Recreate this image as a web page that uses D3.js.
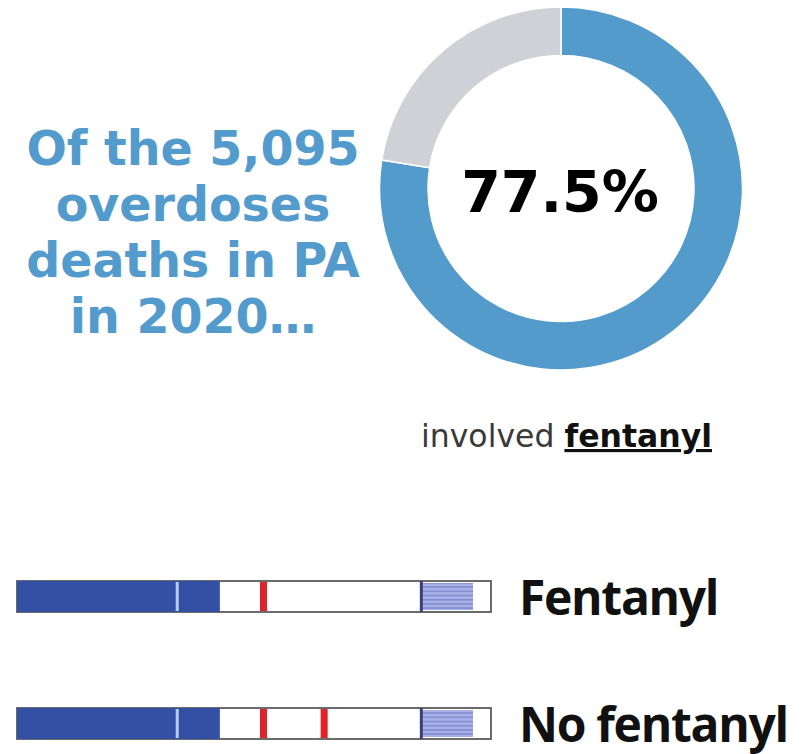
<!DOCTYPE html>
<html>
<head>
<meta charset="utf-8">
<script src="https://cdn.jsdelivr.net/npm/d3@7"></script>
<style>
  html, body { margin: 0; padding: 0; background: #fff; }
  svg { display: block; }
</style>
</head>
<body>
<svg id="chart" width="810" height="754"></svg>
<script>
// Headline and donut share
const headlineLines = ["Of the 5,095", "overdoses", "deaths in PA", "in 2020…"];
const shareLabels = ["Fentanyl", "Other"];
const shareValues = [77.5, 22.5];
const shareColors = ["#539bcb", "#d0d0d7"];

// Indicator bars: segments on a 0–100 scale
const barNames = ["Fentanyl", "No fentanyl"];
const solidStart = 0, solidSplit = 33.8, solidEnd = 42.8;
const hatchStart = 85.3, hatchEnd = 96.2;
const redMarks = [[52.0], [52.0, 64.8]];

const svg = d3.select("#chart");

// ---- headline text ----
const head = svg.append("text")
  .attr("x", 193)
  .attr("text-anchor", "middle")
  .attr("font-family", "DejaVu Sans, Verdana, sans-serif")
  .attr("font-weight", "bold")
  .attr("font-size", 47.5)
  .attr("fill", "#529bcc");
head.selectAll("tspan").data(headlineLines).join("tspan")
  .attr("x", 193)
  .attr("y", (d, i) => 165 + i * 56)
  .text(d => d);

// ---- donut ----
const cx = 561, cy = 188.5;
const pie = d3.pie().sort(null).value(d => d)(shareValues);
const arc = d3.arc().innerRadius(133).outerRadius(181.5);
const g = svg.append("g").attr("transform", `translate(${cx},${cy})`);
g.selectAll("path").data(pie).join("path")
  .attr("d", arc)
  .attr("fill", (d, i) => shareColors[i])
  .attr("stroke", "#fff")
  .attr("stroke-width", 1.5);
g.append("text")
  .attr("x", -1).attr("y", 23)
  .attr("text-anchor", "middle")
  .attr("font-family", "DejaVu Sans, Verdana, sans-serif")
  .attr("font-weight", "bold")
  .attr("font-size", 57)
  .attr("fill", "#000")
  .text(d3.format(".1f")(shareValues[0]) + "%");

// caption under the donut
const cap = svg.append("text")
  .attr("x", 421).attr("y", 447)
  .attr("font-family", "DejaVu Sans, Verdana, sans-serif")
  .attr("font-size", 31.5)
  .attr("fill", "#3a3a3a");
cap.append("tspan").text("involved ");
cap.append("tspan")
  .attr("font-weight", "bold")
  .attr("fill", "#111")
  .attr("text-decoration", "underline")
  .text("fentanyl");

// ---- indicator bars ----
const x = d3.scaleLinear().domain([0, 100]).range([17, 491]);
const bh = 31;
const rowY = [581, 708];

const defs = svg.append("defs");
const pat = defs.append("pattern")
  .attr("id", "hatch")
  .attr("patternUnits", "userSpaceOnUse")
  .attr("width", 8).attr("height", 4.2);
pat.append("rect").attr("width", 8).attr("height", 4.2).attr("fill", "#a9b0e6");
pat.append("rect").attr("y", 2.6).attr("width", 8).attr("height", 1.4).attr("fill", "#7d87cf");

barNames.forEach((name, i) => {
  const top = rowY[i];
  const row = svg.append("g");
  // frame
  row.append("rect")
    .attr("x", x(0)).attr("y", top)
    .attr("width", x(100) - x(0)).attr("height", bh)
    .attr("fill", "#fff")
    .attr("stroke", "#6b6b6b").attr("stroke-width", 2);
  // solid block
  row.append("rect")
    .attr("x", x(solidStart)).attr("y", top)
    .attr("width", x(solidEnd) - x(solidStart)).attr("height", bh)
    .attr("fill", "#3350a4");
  row.append("rect")
    .attr("x", x(solidSplit) - 1.5).attr("y", top + 1)
    .attr("width", 3).attr("height", bh - 2)
    .attr("fill", "#b9cdf2");
  // hatched block
  row.append("rect")
    .attr("x", x(hatchStart)).attr("y", top + 2)
    .attr("width", x(hatchEnd) - x(hatchStart)).attr("height", bh - 4)
    .attr("fill", "url(#hatch)");
  row.append("rect")
    .attr("x", x(hatchStart) - 1.5).attr("y", top)
    .attr("width", 3).attr("height", bh)
    .attr("fill", "#3a3f78");
  // red markers
  row.selectAll(".mark").data(redMarks[i]).join("rect")
    .attr("class", "mark")
    .attr("x", d => x(d) - 3.5).attr("y", top + 1)
    .attr("width", 7).attr("height", bh - 2)
    .attr("fill", "#e0222a");
  // label
  row.append("text")
    .attr("x", 519).attr("y", top + 34)
    .attr("font-family", "Open Sans, sans-serif")
    .attr("font-weight", 700)
    .attr("font-size", 48)
    .attr("letter-spacing", -1.3)
    .attr("fill", "#111")
    .text(name);
});
</script>
</body>
</html>
